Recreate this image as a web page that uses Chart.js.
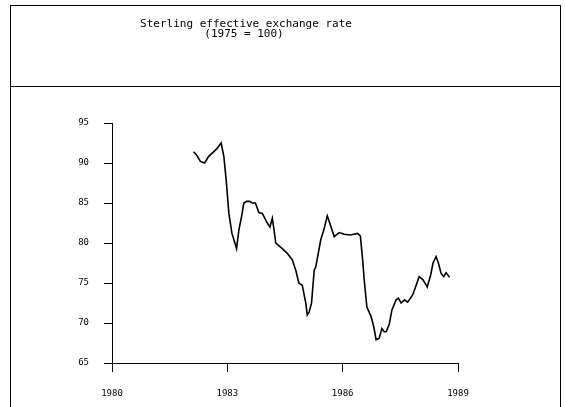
<!DOCTYPE html>
<html>
<head>
<meta charset="utf-8">
<script src="https://cdn.jsdelivr.net/npm/chart.js@4/dist/chart.umd.min.js"></script>
<style>
  html, body { margin: 0; padding: 0; background: #fff; }
  #wrap { width: 565px; height: 407px; position: relative; }
</style>
</head>
<body>
<div id="wrap"><canvas id="rateChart" width="565" height="407"></canvas></div>
<script>
// titulo e eixos
const titleLines = ['Sterling effective exchange rate', '(1975 = 100)'];
const yTicks = [65, 70, 75, 80, 85, 90, 95];
const xTicks = [1980, 1983, 1986, 1989];

// datas (ano decimal) e valores
const dates = [
  1982.12, 1982.20, 1982.30, 1982.41, 1982.51, 1982.62, 1982.73, 1982.84, 1982.91, 1982.97,
  1983.04, 1983.12, 1983.24, 1983.30, 1983.37, 1983.43, 1983.50, 1983.58, 1983.65, 1983.73,
  1983.82, 1983.91, 1984.04, 1984.11, 1984.17, 1984.21, 1984.26, 1984.43, 1984.56, 1984.69,
  1984.78, 1984.86, 1984.95, 1985.04, 1985.08, 1985.13, 1985.19, 1985.26, 1985.30, 1985.43,
  1985.52, 1985.60, 1985.65, 1985.78, 1985.91, 1986.04, 1986.20, 1986.39, 1986.46, 1986.52,
  1986.56, 1986.63, 1986.74, 1986.81, 1986.87, 1986.95, 1987.02, 1987.08, 1987.13, 1987.21,
  1987.28, 1987.39, 1987.45, 1987.52, 1987.61, 1987.69, 1987.82, 1987.91, 1987.99, 1988.09,
  1988.20, 1988.29, 1988.35, 1988.43, 1988.49, 1988.56, 1988.63, 1988.69, 1988.78
];
const rates = [
  91.4, 91.0, 90.2, 90.0, 90.8, 91.3, 91.8, 92.5, 90.8, 87.9,
  83.7, 81.2, 79.3, 81.6, 83.3, 85.0, 85.2, 85.2, 85.0, 85.0,
  83.8, 83.7, 82.5, 82.0, 83.1, 81.8, 80.0, 79.3, 78.7, 77.9,
  76.6, 75.0, 74.7, 72.5, 71.0, 71.4, 72.5, 76.6, 77.0, 80.4,
  81.8, 83.4, 82.7, 80.8, 81.3, 81.1, 81.0, 81.2, 80.9, 77.9,
  75.4, 72.0, 70.8, 69.5, 67.9, 68.1, 69.3, 68.9, 68.9, 69.8,
  71.6, 72.9, 73.1, 72.5, 72.9, 72.6, 73.5, 74.7, 75.8, 75.4,
  74.5, 76.0, 77.5, 78.3, 77.5, 76.2, 75.8, 76.3, 75.7
];

const points = dates.map((d, i) => ({ x: d, y: rates[i] }));
const monoFont = { family: 'DejaVu Sans Mono', size: 9 };

// moldura e caixa do titulo
const framePlugin = {
  id: 'frame',
  beforeDraw(chart) {
    const c = chart.ctx;
    c.save();
    c.fillStyle = '#fff';
    c.fillRect(0, 0, chart.width, chart.height);
    c.strokeStyle = '#000';
    c.lineWidth = 1;
    c.strokeRect(10.5, 5.5, 550, 420);
    c.beginPath();
    c.moveTo(10, 86.5);
    c.lineTo(561, 86.5);
    c.stroke();
    c.fillStyle = '#000';
    c.font = '11px "DejaVu Sans Mono"';
    c.textAlign = 'center';
    c.textBaseline = 'middle';
    c.fillText(titleLines[0], 246, 24);
    c.fillText(titleLines[1], 244, 34);
    c.restore();
  }
};

new Chart(document.getElementById('rateChart'), {
  type: 'line',
  data: {
    datasets: [{
      data: points,
      borderColor: '#000',
      borderWidth: 1.6,
      pointRadius: 0,
      tension: 0,
      fill: false
    }]
  },
  options: {
    responsive: false,
    animation: false,
    layout: { padding: { left: 0, right: 107, top: 123, bottom: 0 } },
    plugins: {
      legend: { display: false },
      title: { display: false },
      tooltip: { enabled: false }
    },
    scales: {
      x: {
        type: 'linear',
        min: 1980,
        max: 1989,
        afterBuildTicks: axis => { axis.ticks = xTicks.map(v => ({ value: v })); },
        afterFit: axis => { axis.height = 44; },
        grid: { drawOnChartArea: false, tickLength: 9, color: '#000' },
        border: { display: true, color: '#000', width: 1 },
        ticks: { color: '#000', font: monoFont, padding: 16, maxRotation: 0, callback: v => String(v) }
      },
      y: {
        min: 65,
        max: 95,
        afterBuildTicks: axis => { axis.ticks = yTicks.map(v => ({ value: v })); },
        afterFit: axis => { axis.width = 112; },
        grid: { drawOnChartArea: false, tickLength: 8, color: '#000' },
        border: { display: true, color: '#000', width: 1 },
        ticks: { color: '#000', font: monoFont, padding: 15 }
      }
    }
  },
  plugins: [framePlugin]
});
</script>
</body>
</html>
